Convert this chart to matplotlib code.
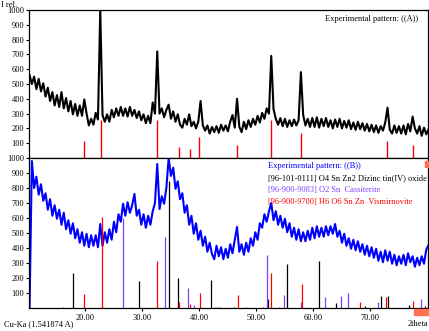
#! /usr/bin/env python
"""XRD patterns (A) and (B) with reference phase sticks."""

import numpy as np
import matplotlib.pyplot as plt
from matplotlib.patches import Rectangle

plt.rcParams['font.family'] = ['Liberation Serif', 'DejaVu Serif']
font_size = 6

# 2theta scan grid of both patterns
theta_start = 10.2
theta_step = 0.4

# pattern (A), top panel
counts_a = [560, 500, 550, 465, 535, 450, 505, 415, 475, 385,
            445, 355, 425, 345, 445, 335, 405, 315, 385, 295,
            365, 285, 355, 285, 395, 300, 220, 265, 225, 305,
            260, 1000, 290, 245, 295, 245, 325, 275, 335, 285,
            345, 285, 335, 280, 345, 285, 325, 270, 315, 255,
            295, 235, 285, 235, 375, 300, 720, 300, 335, 275,
            325, 360, 265, 315, 245, 295, 225, 205, 265, 225,
            295, 215, 245, 200, 245, 385, 220, 185, 220, 165,
            210, 175, 215, 170, 225, 185, 220, 180, 245, 290,
            205, 400, 210, 175, 245, 195, 255, 210, 265, 225,
            285, 240, 305, 265, 335, 300, 690, 330, 265, 225,
            270, 215, 265, 210, 255, 215, 260, 220, 255, 580,
            290, 220, 265, 210, 270, 210, 275, 205, 265, 215,
            270, 210, 255, 200, 260, 210, 265, 200, 250, 205,
            255, 195, 240, 190, 245, 195, 235, 185, 230, 180,
            225, 175, 220, 170, 215, 185, 240, 340, 190, 165,
            220, 170, 215, 165, 220, 160, 230, 180, 280, 200,
            165, 215, 150, 205, 160, 195]

# pattern (B), bottom panel
counts_b = [0, 980, 800, 875, 755, 825, 715, 765, 655, 725,
            615, 685, 595, 655, 555, 635, 525, 585, 495, 565,
            465, 525, 435, 505, 415, 495, 405, 485, 415, 485,
            405, 560, 415, 505, 435, 525, 455, 575, 505, 625,
            575, 695, 615, 705, 635, 685, 760, 615, 655, 555,
            625, 535, 615, 555, 645, 700, 960, 660, 745, 695,
            800, 1000, 880, 935, 795, 845, 725, 765, 635, 685,
            555, 615, 495, 565, 455, 515, 415, 475, 375, 435,
            360, 325, 415, 345, 405, 325, 395, 335, 425, 365,
            455, 540, 375, 425, 355, 435, 375, 465, 415, 505,
            455, 565, 535, 625, 575, 645, 700, 585, 645, 555,
            615, 535, 595, 505, 565, 475, 535, 455, 525, 445,
            505, 445, 515, 455, 535, 465, 545, 475, 535, 475,
            545, 485, 545, 495, 560, 475, 515, 435, 495, 415,
            465, 395, 455, 385, 445, 375, 425, 355, 415, 345,
            405, 335, 395, 315, 375, 305, 385, 315, 375, 295,
            355, 285, 345, 295, 355, 285, 365, 305, 345, 275,
            335, 285, 345, 295, 390, 420]

# reference sticks shown under pattern (A)
sticks_a_pos = [19.8, 22.75, 32.5, 36.4, 38.3, 40.0, 46.6, 52.5, 57.9,
                72.9, 77.5]
sticks_a_int = [113, 255, 255, 76, 62, 145, 91, 255, 170, 118, 86]

# [96-101-0111] O4 Sn Zn2
zto_pos = [17.9, 29.4, 34.6, 36.2, 42.0, 46.0, 52.0, 55.4, 60.9, 64.0,
           69.1, 71.9, 73.0, 76.7, 79.5]
zto_int = [233, 182, 845, 200, 184, 10, 60, 294, 316, 36, 15, 80, 82, 22,
           15]

# [96-900-9083] O2 Sn
sno2_pos = [26.6, 33.9, 38.0, 39.1, 42.7, 43.0, 51.9, 54.9, 57.9, 62.0,
            64.9, 66.1, 71.4, 78.8]
sno2_int = [600, 471, 133, 22, 8, 10, 352, 85, 38, 76, 80, 98, 38, 58]

# [96-900-9700] H6 O6 Sn Zn
zsh_pos = [16.1, 19.8, 22.9, 28.1, 32.5, 36.4, 38.3, 40.1, 43.4, 46.7,
           48.2, 51.1, 52.5, 53.9, 58.0, 68.1, 72.8, 77.5]
zsh_int = [8, 91, 609, 5, 315, 40, 30, 103, 10, 84, 4, 8, 233, 5, 163, 38,
           73, 49]

x_ticks = [20, 30, 40, 50, 60, 70]
y_ticks = [100, 200, 300, 400, 500, 600, 700, 800, 900, 1000]

purple = '#8040ff'
theta = theta_start + theta_step * np.arange(len(counts_a))

fig = plt.figure(figsize=(4.29, 3.31), dpi=100)
ax_a = fig.add_axes([29 / 429, 1 - 158 / 331, 399 / 429, 148 / 331])
ax_b = fig.add_axes([29 / 429, 1 - 308 / 331, 399 / 429, 150 / 331],
                    sharex=ax_a)

ax_a.plot(theta, counts_a, color='black', lw=1.5)
ax_a.vlines(sticks_a_pos, 0, sticks_a_int, color='red', lw=1.0)

ax_b.plot(theta, counts_b, color='blue', lw=1.5)
ax_b.vlines(zto_pos, 0, zto_int, color='black', lw=0.9)
ax_b.vlines(sno2_pos, 0, sno2_int, color=purple, lw=0.9)
ax_b.vlines(zsh_pos, 0, zsh_int, color='red', lw=0.9)

for ax in (ax_a, ax_b):
    ax.set_ylim(0, 1000)
    ax.set_yticks(y_ticks)
    ax.set_yticklabels([str(v) for v in y_ticks], fontsize=font_size)
    ax.tick_params(axis='y', direction='out', length=2.5, width=0.8, pad=1)
    for sp in ax.spines.values():
        sp.set_linewidth(0.9)

ax_b.set_xlim(10.1, 80.1)
ax_b.set_xticks(x_ticks)
ax_b.set_xticklabels(['%.2f' % v for v in x_ticks], fontsize=font_size)
ax_b.tick_params(axis='x', direction='out', length=2.5, width=0.8, pad=1.5)
ax_a.tick_params(axis='x', bottom=False, labelbottom=False)

ax_a.text(0.975, 0.94, 'Experimental pattern: ((A))', transform=ax_a.transAxes,
          ha='right', va='center', fontsize=font_size)

legend_lines = [('Experimental pattern: ((B))', 'blue'),
                ('[96-101-0111] O4 Sn Zn2 Dizinc tin(IV) oxide', 'black'),
                ('[96-900-9083] O2 Sn  Cassiterite', purple),
                ('[96-900-9700] H6 O6 Sn Zn  Vismirnovite', 'red')]
for k, (txt, col) in enumerate(legend_lines):
    fig.text(268 / 429, 1 - (165.5 + 12.2 * k) / 331, txt, color=col,
             ha='left', va='center', fontsize=font_size)

fig.text(0.002, 0.997, 'I rel.', ha='left', va='top', fontsize=font_size)
fig.text(4 / 429, 1 - 324 / 331, 'Cu-Ka (1.541874 A)', ha='left',
         va='center', fontsize=font_size)
fig.text(428 / 429, 1 - 324 / 331, '2theta', ha='right', va='center',
         fontsize=font_size)

# orange markers of the original program window
fig.patches.append(Rectangle((414 / 429, 1 - 315 / 331), 14 / 429, 6 / 331,
                             transform=fig.transFigure, color='#ff7050'))
fig.patches.append(Rectangle((425 / 429, 1 - 167 / 331), 3 / 429, 6 / 331,
                             transform=fig.transFigure, color='#ff7050'))

plt.savefig('out.png', dpi=100)
plt.close()
